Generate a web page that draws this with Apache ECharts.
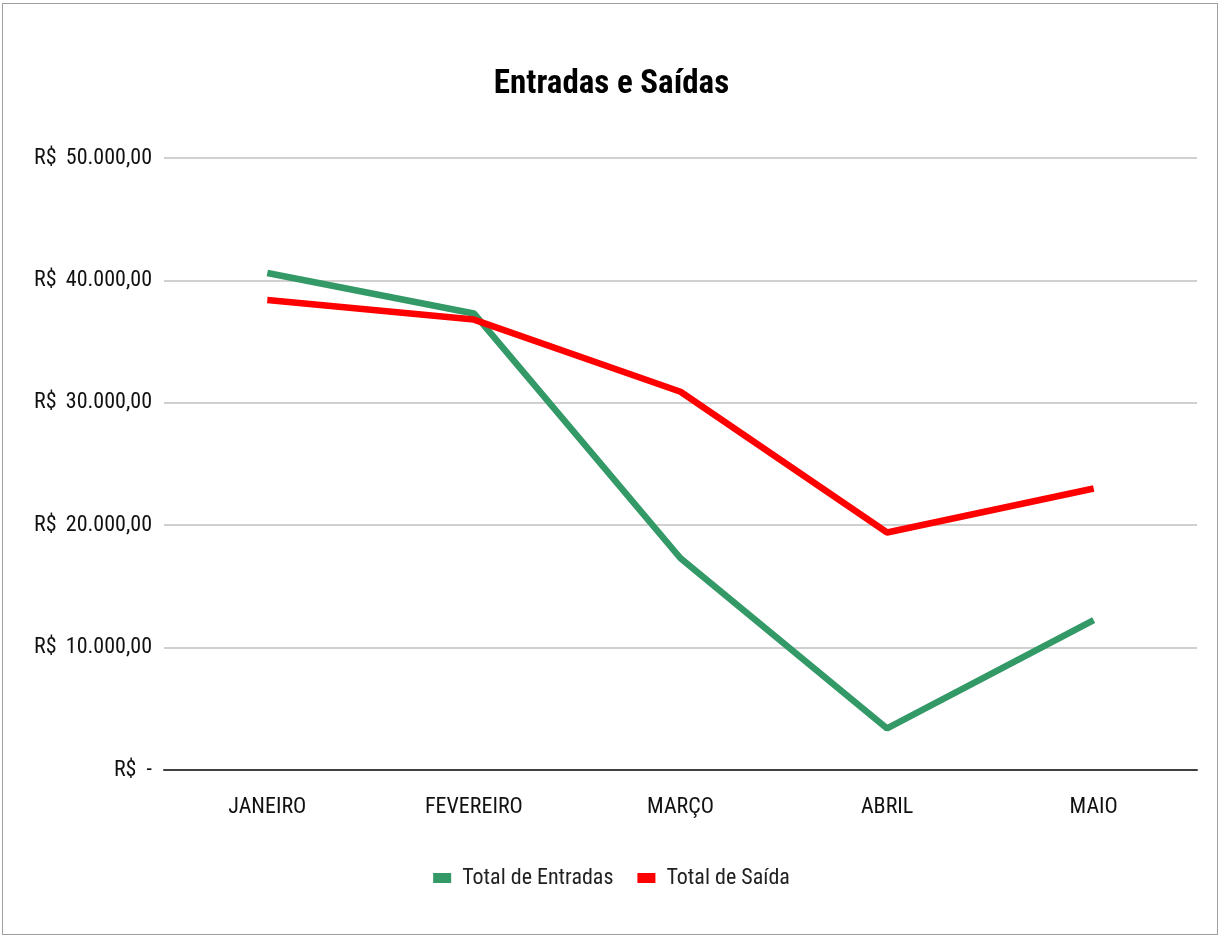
<!DOCTYPE html>
<html><head><meta charset="utf-8">
<script src="https://cdn.jsdelivr.net/npm/echarts@6/dist/echarts.min.js"></script>
<style>
html,body{margin:0;padding:0;background:#fff;}
#wrap{position:absolute;left:2px;top:3px;width:1216px;height:932px;border:1px solid #a0a0a0;box-sizing:border-box;}
#chart{position:absolute;left:0;top:0;width:1223px;height:940px;}
</style></head>
<body>
<div id="wrap"></div>
<div id="chart"></div>
<script>
const categories = ['JANEIRO', 'FEVEREIRO', 'MARÇO', 'ABRIL', 'MAIO'];
const entradas = [40600, 37300, 17300, 3400, 12250];
const saidas = [38400, 36800, 30900, 19400, 23000];
const seriesNames = ['Total de Entradas', 'Total de Saída'];
const FONT = "'Roboto Condensed','Liberation Sans Narrow','Arial Narrow',sans-serif";

function fmt(v){
  if (v === 0) return 'R$  -';
  const s = Math.round(v).toString().replace(/\B(?=(\d{3})+(?!\d))/g, '.');
  return 'R$ \u2009' + s + ',00';
}

const chart = echarts.init(document.getElementById('chart'), null, {renderer:'canvas'});
chart.setOption({
  backgroundColor: 'transparent',
  animation: false,
  title: {
    text: 'Entradas e Saídas', left: 'center', top: 63,
    textStyle: {fontFamily: FONT, fontSize: 33, fontWeight: 'bold', color: '#000'}
  },
  legend: {
    bottom: 46, left: 'center', itemWidth: 18, itemHeight: 10, itemGap: 24,
    icon: 'rect',
    textStyle: {fontFamily: FONT, fontSize: 22, color: '#222', padding: [0, 0, 0, 6]},
    data: seriesNames
  },
  grid: {left: 164, right: 26, top: 158, bottom: 170, containLabel: false},
  xAxis: {
    type: 'category', data: categories, boundaryGap: true,
    axisLine: {lineStyle: {color: '#404040', width: 2}},
    axisTick: {show: false},
    axisLabel: {fontFamily: FONT, fontSize: 22, color: '#111', margin: 26}
  },
  yAxis: {
    type: 'value', min: 0, max: 50000, interval: 10000,
    axisLine: {show: false}, axisTick: {show: false},
    splitLine: {lineStyle: {color: '#d0d0d0', width: 2}},
    axisLabel: {fontFamily: FONT, fontSize: 22, color: '#111', margin: 12, formatter: fmt}
  },
  series: [
    {name: seriesNames[0], type: 'line', data: entradas, symbol: 'none',
     lineStyle: {width: 6.5, color: '#339966'}, itemStyle: {color: '#339966'}},
    {name: seriesNames[1], type: 'line', data: saidas, symbol: 'none',
     lineStyle: {width: 6.5, color: '#ff0000'}, itemStyle: {color: '#ff0000'}}
  ]
});
</script>
</body></html>
